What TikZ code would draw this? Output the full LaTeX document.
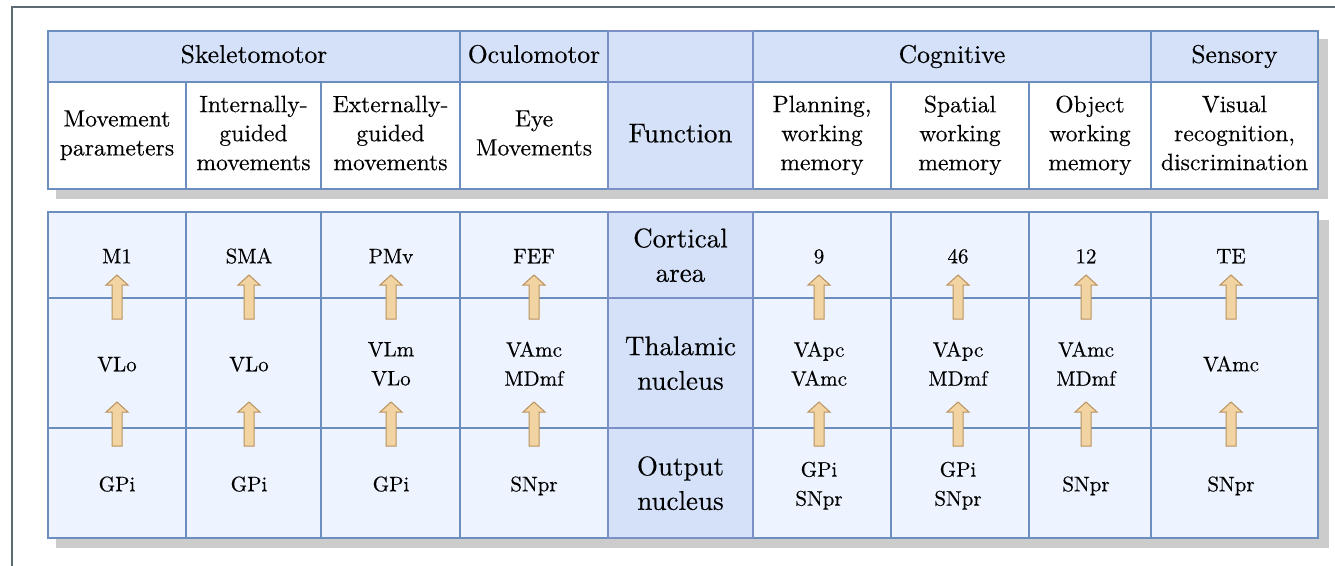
\documentclass[tikz,border=0pt]{standalone}
\usepackage{fontspec}
\newfontfamily\tnr{lmroman10-regular.otf}[FakeBold=0.35]
\definecolor{bordc}{HTML}{6C8EBF}
\definecolor{fnbord}{HTML}{7A90C6}
\definecolor{hdrfill}{HTML}{D4E1F9}
\definecolor{cellfill}{HTML}{EEF4FF}
\definecolor{shadc}{HTML}{CCCCCC}
\definecolor{framec}{HTML}{5F6B73}
\definecolor{arrfill}{HTML}{F2D3A2}
\definecolor{arrdraw}{HTML}{B8925F}
\newcommand{\cellbox}[7]{%
  \node[#6, minimum width={#4-#2}, minimum height={#5-#3}] (#1) at ({(#2+#4)/2},{(#3+#5)/2}) {#7};}
\newcommand{\blockup}[2]{%
  \draw[barrow] (#1-5,#2) -- (#1-5,#2-34) -- (#1-11,#2-34) -- (#1,#2-44) -- (#1+11,#2-34) -- (#1+5,#2-34) -- (#1+5,#2) -- cycle;}
\newcommand{\mystrut}{\vrule height 0.72em depth 0.22em width 0pt\relax}
\tikzset{
  txt/.style={execute at begin node=\mystrut, execute at end node=\mystrut},
  basecell/.style={draw=bordc, line width=1.5pt, inner sep=0pt, outer sep=0pt, align=center, rectangle, txt},
  hdr/.style={basecell, fill=hdrfill, font=\tnr\fontsize{25.6}{32}\selectfont},
  fcell/.style={basecell, fill=white, font=\tnr\fontsize{23.6}{29}\selectfont},
  fncell/.style={basecell, draw=fnbord, line width=2.2pt, fill=hdrfill, font=\tnr\fontsize{27}{34.5}\selectfont},
  lcell/.style={basecell, fill=cellfill},
  lab/.style={inner sep=0pt, align=center, txt, font=\tnr\fontsize{21}{29}\selectfont},
  fnlab/.style={inner sep=0pt, align=center, txt, font=\tnr\fontsize{27}{34.5}\selectfont},
  barrow/.style={fill=arrfill, draw=arrdraw, line width=1pt, line join=miter},
}
\begin{document}
\begin{tikzpicture}[x=1pt,y=-1pt]
\useasboundingbox (0,0) rectangle (1335,565);
% outer frame
\draw[framec, line width=2pt] (12,566) -- (12,7) -- (1336,7);
% shadows
\fill[shadc] (56,39) rectangle (1328,199);
\fill[shadc] (56,220) rectangle (1329,548);
% header row
\cellbox{hSkel}{48}{31}{460}{82}{hdr}{Skeletomotor}
\cellbox{hOcu}{460}{31}{608}{82}{hdr}{Oculomotor}
\cellbox{hCog}{753}{31}{1151}{82}{hdr}{Cognitive}
\cellbox{hSen}{1151}{31}{1318}{82}{hdr}{Sensory}
% function row
\cellbox{f1}{48}{82}{186}{189}{fcell}{Movement\\parameters}
\cellbox{f2}{186}{82}{321}{189}{fcell}{Internally-\\guided\\movements}
\cellbox{f3}{321}{82}{460}{189}{fcell}{Externally-\\guided\\movements}
\cellbox{f4}{460}{82}{608}{189}{fcell}{Eye\\Movements}
\cellbox{f6}{753}{82}{891}{189}{fcell}{Planning,\\working\\memory}
\cellbox{f7}{891}{82}{1029}{189}{fcell}{Spatial\\working\\memory}
\cellbox{f8}{1029}{82}{1151}{189}{fcell}{Object\\working\\memory}
\cellbox{f9}{1151}{82}{1318}{189}{fcell}{Visual\\recognition,\\discrimination}
\cellbox{hFn}{608}{31}{753}{82}{fncell}{}
\cellbox{fFn}{608}{82}{753}{189}{fncell}{Function}
% lower table cells
\foreach \a/\b [count=\i] in {48/186,186/321,321/460,460/608,753/891,891/1029,1029/1151,1151/1318}{
  \foreach \t/\u [count=\j] in {212/298,298/428,428/538}{
    \cellbox{c\i\j}{\a}{\t}{\b}{\u}{lcell}{}
  }
}
\cellbox{fnA}{608}{212}{753}{298}{fncell}{}
\cellbox{fnB}{608}{298}{753}{428}{fncell}{}
\cellbox{fnC}{608}{428}{753}{538}{fncell}{}
\node[fnlab] (tA) at ([yshift=-3pt]fnA.center) {Cortical\\area};
\node[fnlab] (tB) at ([yshift=-3pt]fnB.center) {Thalamic\\nucleus};
\node[fnlab] (tC) at ([yshift=-3pt]fnC.center) {Output\\nucleus};
% labels
\foreach \x/\p/\q/\r [count=\i] in {
  117/M1/VLo/GPi,
  249/SMA/VLo/GPi,
  391/PMv/{VLm\\VLo}/GPi,
  534/FEF/{VAmc\\MDmf}/SNpr,
  819/9/{VApc\\VAmc}/{GPi\\SNpr},
  958/46/{VApc\\MDmf}/{GPi\\SNpr},
  1086/12/{VAmc\\MDmf}/SNpr,
  1231/TE/VAmc/SNpr}{
  \node[lab] (a\i) at (\x,258) {\p};
  \node[lab] (b\i) at (\x,366) {\q};
  \node[lab] (d\i) at (\x,486) {\r};
  \blockup{\x}{319}
  \blockup{\x}{446}
}
\end{tikzpicture}
\end{document}
